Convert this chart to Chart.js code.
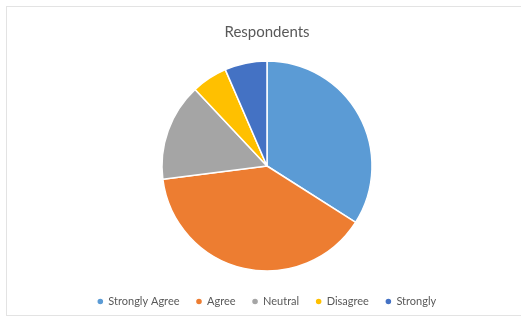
<!DOCTYPE html>
<html>
<head>
<meta charset="utf-8">
<script src="https://cdn.jsdelivr.net/npm/chart.js@4"></script>
<style>
html,body{margin:0;padding:0;background:#fff;}
#wrap{position:absolute;left:0;top:0;width:521px;height:325px;}
#frame{position:absolute;left:6px;top:6px;width:520px;height:310px;border:1px solid #e3e3e3;box-sizing:border-box;}
canvas{position:absolute;left:0;top:0;}
</style>
</head>
<body>
<div id="wrap">
<div id="frame"></div>
<canvas id="c" width="521" height="325"></canvas>
</div>
<script>
const categories = ["Strongly Agree", "Agree", "Neutral", "Disagree", "Strongly"];
const respondents = [34, 39, 15, 5.5, 6.5];
const sliceColors = ["#5B9BD5", "#ED7D31", "#A5A5A5", "#FFC000", "#4472C4"];
const titleText = "Respondents";

new Chart(document.getElementById("c"), {
  type: "pie",
  data: {
    labels: categories,
    datasets: [{
      data: respondents,
      backgroundColor: sliceColors,
      borderColor: "#ffffff",
      borderWidth: 1.5,
      radius: 105
    }]
  },
  options: {
    responsive: false,
    animation: false,
    layout: { padding: { left: 19, right: 6, top: 19, bottom: 8 } },
    plugins: {
      title: {
        display: true,
        text: titleText,
        color: "#595959",
        font: { family: "Lato", size: 15, weight: "normal" },
        padding: { top: 4, bottom: 12 }
      },
      legend: {
        position: "bottom",
        labels: {
          color: "#595959",
          font: { family: "Lato", size: 11 },
          usePointStyle: true,
          pointStyle: "circle",
          boxWidth: 5,
          boxHeight: 5,
          padding: 17
        }
      },
      tooltip: { enabled: false }
    }
  }
});
</script>
</body>
</html>
